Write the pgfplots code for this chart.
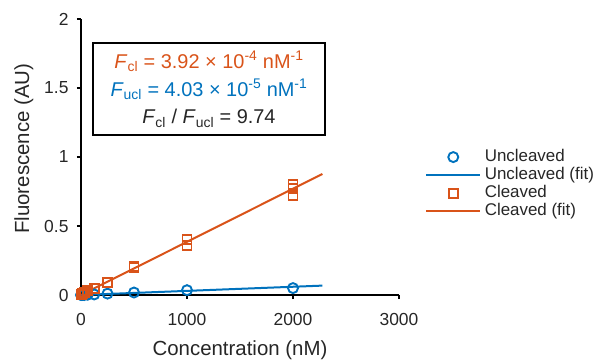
\documentclass[border=0pt]{standalone}
\usepackage{fontspec}
\setmainfont{Liberation Sans}
\usepackage{pgfplots}
\pgfplotsset{compat=1.18}
\definecolor{mblue}{RGB}{0,114,189}
\definecolor{morange}{RGB}{217,83,25}
\definecolor{tgray}{RGB}{38,38,38}
\pgfplotsset{
  leglinex/.style={legend image code/.code={\draw[##1] (0bp,0bp) -- (54bp,0bp);}},
  legmarkx/.style={legend image code/.code={\draw[##1] plot coordinates {(27bp,0bp)};}},
}
\begin{document}
\begin{tikzpicture}
\begin{axis}[
  at={(81bp,67bp)}, anchor=south west,
  scale only axis, width=318bp, height=276bp,
  xmin=0, xmax=3000, ymin=0, ymax=2,
  enlargelimits=false,
  axis x line*=bottom, axis y line*=left,
  axis line style={line width=1.4bp, black},
  xtick={0,1000,2000,3000}, xticklabels={0,1000,2000,3000},
  ytick={0,0.5,1,1.5,2}, yticklabels={0,0.5,1,1.5,2},
  tick align=outside, major tick length=4bp,
  tick style={line width=1.4bp, black},
  tick label style={font=\fontsize{17.5}{20}\selectfont, text=tgray},
  xticklabel style={yshift=-11bp},
  yticklabel style={xshift=-5bp},
  xlabel={Concentration (nM)}, ylabel={Fluorescence (AU)},
  label style={font=\fontsize{20.5}{24}\selectfont, text=tgray},
  xlabel style={at={(axis description cs:0.5,-0.2)}, anchor=center},
  ylabel style={at={(axis description cs:-0.18,0.53)}, anchor=center},
  clip=false,
  legend style={at={(axis description cs:1.082,0.533)}, anchor=north west,
    draw=none, fill=none, inner sep=0pt,
    font=\fontsize{17}{20}\selectfont, text=tgray,
    cells={anchor=west},
    nodes={inner sep=0.5bp, text height=13bp, text depth=4bp},
    row sep=0pt,
    /tikz/every odd column/.append style={column sep=3bp}},
]
\addplot[mblue, only marks, mark=o, mark size=5bp, mark options={line width=1.9bp, solid}, legmarkx]
  coordinates {(0,0) (7.8,0) (15.6,0) (31.25,0) (62.5,0.002) (125,0.004) (250,0.01) (500,0.018) (1000,0.035) (2000,0.05)};
\addlegendentry{Uncleaved}
\addplot[mblue, line width=2bp, no markers, leglinex]
  coordinates {(0,0) (2277,0.068)};
\addlegendentry{Uncleaved (fit)}
\addplot[morange, only marks, mark=square, mark size=4.5bp, mark options={line width=1.9bp, solid}, legmarkx]
  coordinates {(0,0.004) (7.8,0.006) (15.6,0.01) (31.25,0.017) (62.5,0.03) (125,0.05) (250,0.09) (500,0.2) (500,0.205) (1000,0.36) (1000,0.40) (2000,0.72) (2000,0.77) (2000,0.80)};
\addlegendentry{Cleaved}
\addplot[morange, line width=2bp, no markers, leglinex]
  coordinates {(0,0) (2277,0.877)};
\addlegendentry{Cleaved (fit)}
\node[draw=black, line width=1.4bp, minimum width=232bp, minimum height=92bp,
  align=center, inner sep=0pt, font=\fontsize{20}{28}\selectfont]
  at (axis description cs:0.4025,0.746)
  {{\color{morange}\textit{F}\textsubscript{cl} = 3.92 × 10\textsuperscript{-4} nM\textsuperscript{-1}}\\
   {\color{mblue}\textit{F}\textsubscript{ucl} = 4.03 × 10\textsuperscript{-5} nM\textsuperscript{-1}}\\
   {\color{tgray}\textit{F}\textsubscript{cl} / \textit{F}\textsubscript{ucl} = 9.74}};
\end{axis}
\pgfresetboundingbox
\path[use as bounding box] (0,0) rectangle (601bp,362bp);
\end{tikzpicture}
\end{document}
